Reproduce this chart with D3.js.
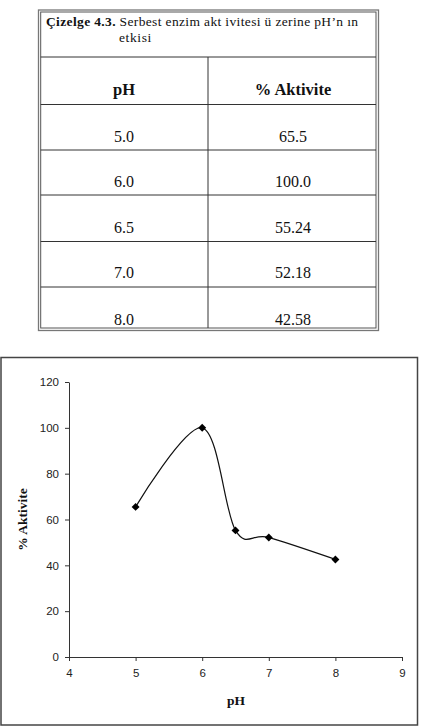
<!DOCTYPE html>
<html>
<head>
<meta charset="utf-8">
<script src="https://cdn.jsdelivr.net/npm/d3@7"></script>
<style>
  body { margin: 0; background: #fff; }
  svg { display: block; }
  .serif { font-family: "Liberation Serif", "Times New Roman", serif; }
  .sans { font-family: "Liberation Sans", Arial, sans-serif; }
</style>
</head>
<body>
<div id="chart"></div>
<script>
// table + chart data
var phLabels = ["5.0", "6.0", "6.5", "7.0", "8.0"];
var activityLabels = ["65.5", "100.0", "55.24", "52.18", "42.58"];
var phValues = [5, 6, 6.5, 7, 8];
var activity = [65.5, 100, 55.24, 52.18, 42.58];
var xTicks = [4, 5, 6, 7, 8, 9];
var yTicks = [0, 20, 40, 60, 80, 100, 120];
var headers = ["pH", "% Aktivite"];

var W = 422, H = 727;
var svg = d3.select("#chart").append("svg")
    .attr("width", W)
    .attr("height", H);

// ---- table ----
var tbl = { left: 40.7, right: 376, top: 12, colX: 208 };
var rowEdges = [57, 104.5, 150, 195, 241.5, 287, 328];

svg.append("rect")
    .attr("x", 38.5).attr("y", 10)
    .attr("width", 340).attr("height", 320.5)
    .attr("fill", "none").attr("stroke", "#777").attr("stroke-width", 1.3);
svg.append("rect")
    .attr("x", tbl.left).attr("y", tbl.top)
    .attr("width", tbl.right - tbl.left).attr("height", rowEdges[6] - tbl.top)
    .attr("fill", "none").attr("stroke", "#555").attr("stroke-width", 1);

svg.selectAll("line.row")
    .data(rowEdges.slice(0, 6))
    .enter().append("line")
    .attr("class", "row")
    .attr("x1", tbl.left).attr("x2", tbl.right)
    .attr("y1", function(d) { return d; }).attr("y2", function(d) { return d; })
    .attr("stroke", "#333").attr("stroke-width", 1);

svg.append("line")
    .attr("x1", tbl.colX).attr("x2", tbl.colX)
    .attr("y1", rowEdges[0]).attr("y2", rowEdges[6])
    .attr("stroke", "#333").attr("stroke-width", 1);

var title = svg.append("text")
    .attr("class", "serif")
    .attr("x", 46).attr("y", 26)
    .attr("font-size", 13.5).attr("fill", "#111")
    .attr("textLength", 312).attr("lengthAdjust", "spacing");
title.append("tspan").attr("font-weight", "bold").text("Çizelge 4.3.");
title.append("tspan").text(" Serbest enzim akt ivitesi ü zerine pH’n ın");
svg.append("text")
    .attr("class", "serif")
    .attr("x", 119).attr("y", 42)
    .attr("font-size", 13.5).attr("fill", "#111")
    .attr("letter-spacing", 0.6)
    .text("etkisi");

var colCenters = [124, 293];
svg.selectAll("text.hdr")
    .data(headers)
    .enter().append("text")
    .attr("class", "hdr serif")
    .attr("x", function(d, i) { return colCenters[i]; })
    .attr("y", 95)
    .attr("text-anchor", "middle")
    .attr("font-weight", "bold").attr("font-size", 16.5).attr("fill", "#111")
    .text(function(d) { return d; });

var baselines = [141.5, 187, 232.5, 278, 325];
[phLabels, activityLabels].forEach(function(col, c) {
    svg.selectAll("text.c" + c)
        .data(col)
        .enter().append("text")
        .attr("class", "c" + c + " serif")
        .attr("x", colCenters[c])
        .attr("y", function(d, i) { return baselines[i]; })
        .attr("text-anchor", "middle")
        .attr("font-size", 16).attr("fill", "#111")
        .text(function(d) { return d; });
});

// ---- chart ----
svg.append("rect")
    .attr("x", 1).attr("y", 357.5)
    .attr("width", 416.5).attr("height", 367.5)
    .attr("fill", "none").attr("stroke", "#444").attr("stroke-width", 1.5);

var x = d3.scaleLinear().domain([4, 9]).range([69, 402]);
var y = d3.scaleLinear().domain([0, 120]).range([657, 382]);

var xAxis = svg.append("g")
    .attr("transform", "translate(0," + y(0) + ")")
    .call(d3.axisBottom(x).tickValues(xTicks).tickFormat(d3.format("d"))
        .tickSize(4).tickPadding(8).tickSizeOuter(0));
var yAxis = svg.append("g")
    .attr("transform", "translate(" + x(4) + ",0)")
    .call(d3.axisLeft(y).tickValues(yTicks).tickFormat(d3.format("d"))
        .tickSize(4).tickPadding(6).tickSizeOuter(0));

[xAxis, yAxis].forEach(function(g) {
    g.select(".domain").attr("stroke", "#333").attr("stroke-width", 1);
    g.selectAll(".tick line").attr("stroke", "#333");
    g.selectAll(".tick text")
        .attr("class", "sans")
        .attr("font-size", 11.5).attr("fill", "#222");
});

var pts = phValues.map(function(d, i) { return [d, activity[i]]; });

var line = d3.line()
    .x(function(d) { return x(d[0]); })
    .y(function(d) { return y(d[1]); })
    .curve(d3.curveCatmullRom.alpha(0));

svg.append("path")
    .datum(pts)
    .attr("d", line)
    .attr("fill", "none").attr("stroke", "#111").attr("stroke-width", 1.2);

svg.selectAll("path.marker")
    .data(pts)
    .enter().append("path")
    .attr("class", "marker")
    .attr("d", d3.symbol().type(d3.symbolDiamond2).size(40))
    .attr("transform", function(d) { return "translate(" + x(d[0]) + "," + y(d[1]) + ")"; })
    .attr("fill", "#000");

svg.append("text")
    .attr("class", "serif")
    .attr("x", 236).attr("y", 705)
    .attr("text-anchor", "middle")
    .attr("font-weight", "bold").attr("font-size", 13.5).attr("fill", "#111")
    .text("pH");

svg.append("text")
    .attr("class", "serif")
    .attr("transform", "translate(27," + (y(60)) + ") rotate(-90)")
    .attr("text-anchor", "middle")
    .attr("font-weight", "bold").attr("font-size", 13.5).attr("fill", "#111")
    .text("% Aktivite");
</script>
</body>
</html>
